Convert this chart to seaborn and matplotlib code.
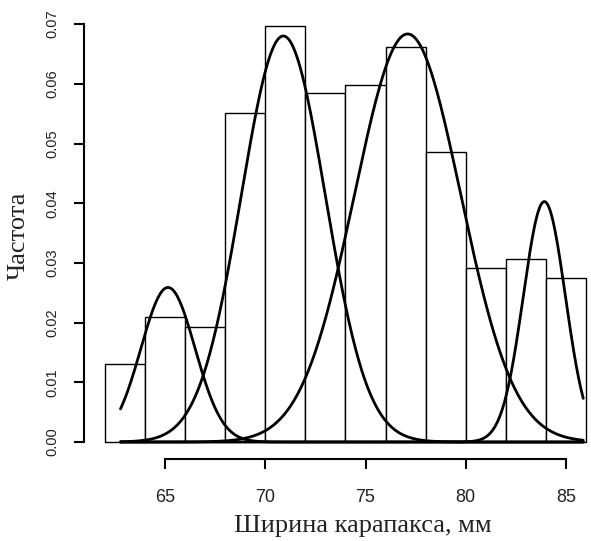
import numpy as np
import matplotlib
matplotlib.use("Agg")
import matplotlib.pyplot as plt
import seaborn as sns

# Histogram data (bin edges and density heights)
bin_edges = [62, 64, 66, 68, 70, 72, 74, 76, 78, 80, 82, 84, 86]
bar_heights = [0.0131, 0.0210, 0.0193, 0.0551, 0.0697, 0.0584,
               0.0598, 0.0662, 0.0486, 0.0292, 0.0307, 0.0275]

# Mixture components (normal density curves): means, sds, weights
comp_means = [65.15, 70.9, 77.1, 83.92]
comp_sds = [1.35, 2.1, 2.65, 1.05]
comp_weights = [0.0876, 0.358, 0.454, 0.106]
curve_range = [62.78, 85.86]

x_ticks = [65, 70, 75, 80, 85]
y_ticks = [0.00, 0.01, 0.02, 0.03, 0.04, 0.05, 0.06, 0.07]
x_label = "Ширина карапакса, мм"
y_label = "Частота"

sns.set_style("white")
plt.rcParams['font.family'] = ['Liberation Sans', 'DejaVu Sans']

fig = plt.figure(figsize=(5.91, 5.41), dpi=100)
W, H = 591, 541
left_px, right_px = 84, 591
top_px, bottom_px = 7.3, 458.7
ax_w, ax_h = right_px - left_px, bottom_px - top_px
ax = fig.add_axes([left_px / W, 1 - bottom_px / H, ax_w / W, ax_h / H])

centers = [(a + b) / 2 for a, b in zip(bin_edges[:-1], bin_edges[1:])]
sns.histplot(x=centers, weights=bar_heights, bins=bin_edges, stat="count",
             color="white", edgecolor="black", linewidth=1.0, alpha=1, ax=ax)

xs = np.linspace(curve_range[0], curve_range[1], 400)
for m, s, w in zip(comp_means, comp_sds, comp_weights):
    ys = w / (s * np.sqrt(2 * np.pi)) * np.exp(-0.5 * ((xs - m) / s) ** 2)
    sns.lineplot(x=xs, y=ys, color="black", linewidth=2.0, ax=ax)

# axis ranges (65 at px 165, 20.05 px per unit; y 0 at px 442, 59.7 px per 0.01)
x_per_px = 1 / 20.05
ax.set_xlim(65 - (165 - left_px) * x_per_px, 65 + (right_px - 165) * x_per_px)
y_per_px = 0.01 / 59.7
ax.set_ylim(-(bottom_px - 442) * y_per_px, (442 - top_px) * y_per_px)

for sp in ["top", "right"]:
    ax.spines[sp].set_visible(False)
ax.spines["left"].set_bounds(0.0, 0.07)
ax.spines["bottom"].set_bounds(65, 85)
for sp in ["left", "bottom"]:
    ax.spines[sp].set_linewidth(1.5)
    ax.spines[sp].set_color("black")

ax.set_xticks(x_ticks)
ax.set_xticklabels([str(t) for t in x_ticks])
ax.set_yticks(y_ticks)
ax.set_yticklabels([f"{t:.2f}" for t in y_ticks], rotation=90, va="center")
ax.tick_params(axis="both", which="major", length=7, width=1.5, color="black",
               labelcolor="#222222", direction="out", bottom=True, left=True)
ax.tick_params(axis="x", pad=15, labelsize=13)
ax.tick_params(axis="y", pad=11, labelsize=10.5)

serif = ["Liberation Serif", "DejaVu Serif"]
ax.set_xlabel(x_label, fontsize=19, family=serif, color="#222222", va="baseline")
ax.xaxis.set_label_coords((363 - left_px) / ax_w, (bottom_px - 531.7) / ax_h)
ax.set_ylabel(y_label, fontsize=19, family=serif, color="#222222", va="center")
ax.yaxis.set_label_coords((19 - left_px) / ax_w, (bottom_px - 236) / ax_h)

fig.savefig("out.png", dpi=100)
